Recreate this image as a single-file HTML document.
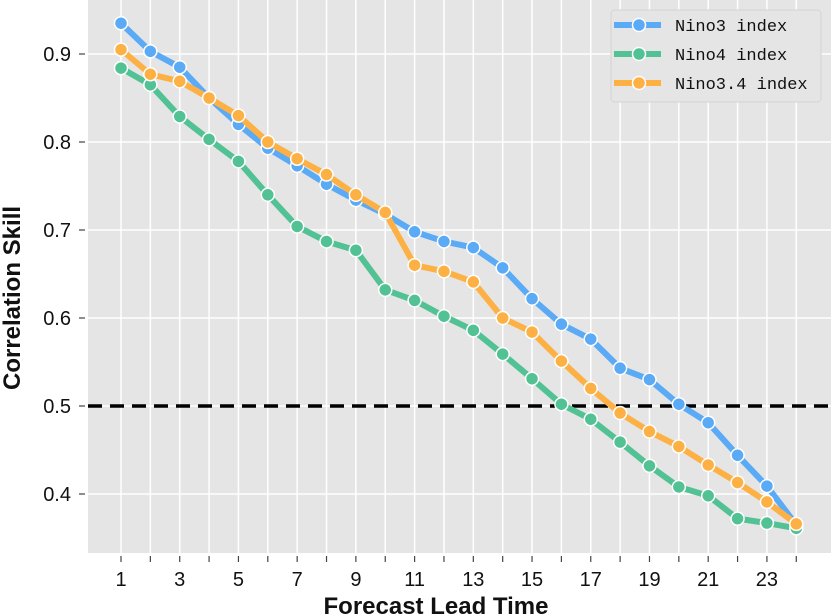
<!DOCTYPE html>
<html><head><meta charset="utf-8"><style>
body{margin:0;background:#fff;}
svg{display:block;font-family:"Liberation Sans","Noto Sans CJK SC",sans-serif;}
</style></head><body>
<svg id="chart" width="831" height="616">
<rect x="88" y="0" width="743" height="553" fill="#e5e5e5"/>
<g id="grid"></g><g id="axes"></g><g id="series"></g>
<text x="436" y="614" text-anchor="middle" font-size="24" font-weight="bold" fill="#111">Forecast Lead Time</text>
<text transform="translate(20,298) rotate(-90)" text-anchor="middle" font-size="24" font-weight="bold" fill="#111">Correlation Skill</text>
<g>
<rect x="611" y="10" width="210" height="92" rx="4" fill="#e5e5e5" stroke="#d4d4d4"/>
<g id="legend"></g>
</g>
</svg>
<script>
const leads=[1,2,3,4,5,6,7,8,9,10,11,12,13,14,15,16,17,18,19,20,21,22,23,24];
const nino3=[0.935,0.903,0.885,0.85,0.82,0.793,0.773,0.752,0.734,0.718,0.698,0.687,0.68,0.657,0.622,0.593,0.576,0.543,0.530,0.502,0.481,0.444,0.409,0.365];
const nino4=[0.884,0.865,0.829,0.803,0.778,0.740,0.704,0.687,0.677,0.632,0.620,0.602,0.586,0.559,0.531,0.502,0.485,0.459,0.432,0.408,0.398,0.372,0.367,0.361];
const nino34=[0.905,0.877,0.869,0.850,0.830,0.800,0.781,0.763,0.740,0.720,0.660,0.653,0.641,0.600,0.584,0.551,0.520,0.492,0.471,0.454,0.433,0.413,0.391,0.366];
const yTicks=[0.4,0.5,0.6,0.7,0.8,0.9];
const xTickLabels=[1,3,5,7,9,11,13,15,17,19,21,23];
const seriesNames=["Nino3 index","Nino4 index","Nino3.4 index"];
const threshold=0.5;
const colors=["#5aaaf6","#52c295","#fdb145"];
const X=n=>121+(n-1)*29.36;
const Y=v=>494-(v-0.4)*880;
const NS="http://www.w3.org/2000/svg";
function mk(t,a,p){const e=document.createElementNS(NS,t);for(const k in a)e.setAttribute(k,a[k]);p.appendChild(e);return e;}
const grid=document.getElementById('grid'),axes=document.getElementById('axes'),ser=document.getElementById('series');
leads.forEach(n=>{
 const l=mk('line',{x1:X(n),x2:X(n),y1:0,y2:553,stroke:'#fff','stroke-width':1.5},grid);
 
 
 const t=mk('line',{x1:X(n),x2:X(n),y1:556,y2:562,stroke:'#444','stroke-width':1.2},axes);
 
 
});
xTickLabels.forEach(n=>{
 const t=mk('text',{x:X(n),y:586,'text-anchor':'middle','font-size':20,fill:'#111'},axes);t.textContent=n;
 
 
});
yTicks.forEach(v=>{
 const l=mk('line',{x1:88,x2:831,y1:Y(v),y2:Y(v),stroke:'#fff','stroke-width':1.5},grid);
 
 
 const k=mk('line',{x1:79,x2:85,y1:Y(v),y2:Y(v),stroke:'#444','stroke-width':1.2},axes);
 
 
 const t=mk('text',{x:71,y:Y(v)+7,'text-anchor':'end','font-size':20,fill:'#111'},axes);t.textContent=v.toFixed(1);
 
 
});
const th=mk('line',{x1:88,x2:831,y1:Y(threshold),y2:Y(threshold),stroke:'#000','stroke-width':3.5,'stroke-dasharray':'14,8'},ser);


[nino3,nino4,nino34].forEach((d,i)=>{
 const g=mk('g',{},ser);
 
 
 mk('polyline',{points:d.map((v,j)=>X(leads[j])+','+Y(v)).join(' '),fill:'none',stroke:colors[i],'stroke-width':6,'stroke-linejoin':'round'},g);
 d.forEach((v,j)=>{
  const c=mk('circle',{cx:X(leads[j]),cy:Y(v),r:6.5,fill:colors[i],stroke:'#fff','stroke-width':1.5},g);
  
  
 });
});
const lg=document.getElementById('legend');
seriesNames.forEach((s,i)=>{
 const y=25+i*29;
 const g=mk('g',{},lg);
 
 
 mk('line',{x1:614,x2:661,y1:y,y2:y,stroke:colors[i],'stroke-width':6},g);
 mk('circle',{cx:639,cy:y,r:6.5,fill:colors[i],stroke:'#fff','stroke-width':1.5},g);
 const t=mk('text',{x:675,y:y+6,'font-size':17,fill:'#111','font-family':'Liberation Mono, monospace'},g);t.textContent=s;
});
</script>
</body></html>
